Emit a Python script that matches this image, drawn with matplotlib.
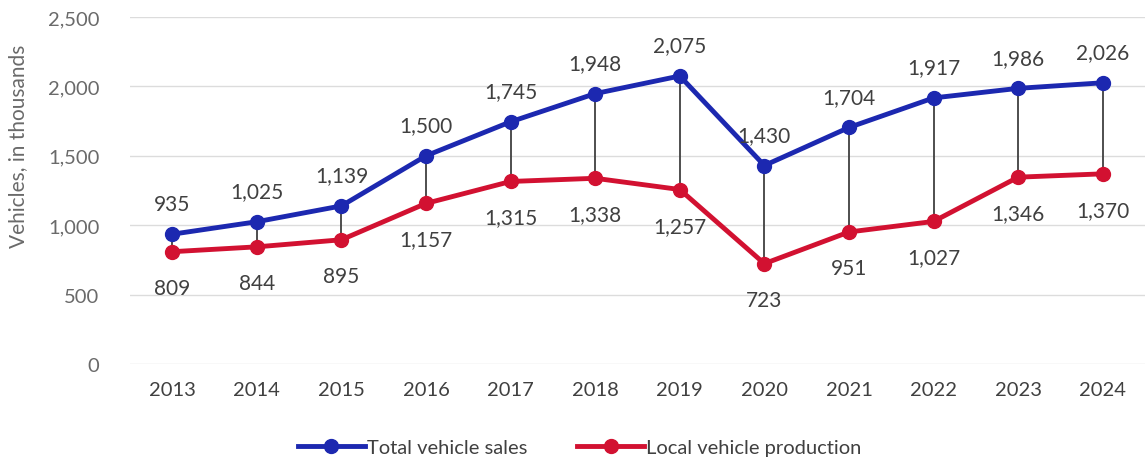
import matplotlib
matplotlib.use("Agg")
from matplotlib import pyplot as plt

# Data
years = ["2013", "2014", "2015", "2016", "2017", "2018",
         "2019", "2020", "2021", "2022", "2023", "2024"]
total_sales = [935, 1025, 1139, 1500, 1745, 1948, 2075, 1430, 1704, 1917, 1986, 2026]
local_prod = [809, 844, 895, 1157, 1315, 1338, 1257, 723, 951, 1027, 1346, 1370]

blue = "#1c28b0"
red = "#d21131"
grey_txt = "#6a6a6a"
lab_txt = "#404040"

plt.rcParams['font.family'] = ['Lato', 'DejaVu Sans']

fig = plt.figure(figsize=(11.48, 4.64), dpi=100)
ax = fig.add_axes([0.1132, 0.2134, 0.8842, 0.7478])

x = list(range(len(years)))

# high-low lines
ax.vlines(x, local_prod, total_sales, color="#404040", lw=1.3, zorder=2)

ax.plot(x, total_sales, color=blue, lw=3.5, marker="o", ms=10,
        label="Total vehicle sales", zorder=3)
ax.plot(x, local_prod, color=red, lw=3.5, marker="o", ms=10,
        label="Local vehicle production", zorder=3)

for i in x:
    ax.annotate(f"{total_sales[i]:,}", (i, total_sales[i]), xytext=(0, 22),
                textcoords="offset points", ha="center", va="center",
                fontsize=15, color=lab_txt)
    ax.annotate(f"{local_prod[i]:,}", (i, local_prod[i]), xytext=(0, -26),
                textcoords="offset points", ha="center", va="center",
                fontsize=15, color=lab_txt)

ax.set_xlim(-0.5, len(years) - 0.5)
ax.set_ylim(0, 2500)
ax.set_yticks(range(0, 2501, 500))
ax.set_yticklabels([f"{v:,}" for v in range(0, 2501, 500)])
ax.set_xticks(x)
ax.set_xticklabels(years)
ax.tick_params(axis="both", length=0, labelsize=14.5)
ax.tick_params(axis="y", pad=22, labelcolor=grey_txt)
ax.tick_params(axis="x", pad=12, labelcolor=lab_txt)
ax.grid(axis="y", color="#dcdcdc", lw=1)
ax.set_axisbelow(True)
for s in ax.spines.values():
    s.set_visible(False)

ax.set_ylabel("Vehicles, in thousands", fontsize=15, color=grey_txt)
ax.yaxis.set_label_coords(-0.1, 0.63)

fig.legend(loc="center", bbox_to_anchor=(0.505, 0.033), ncol=2, frameon=False,
           fontsize=14.5, labelcolor=lab_txt, handlelength=3.3, handletextpad=0.1,
           columnspacing=2.5)

fig.savefig("out.png", dpi=100)
